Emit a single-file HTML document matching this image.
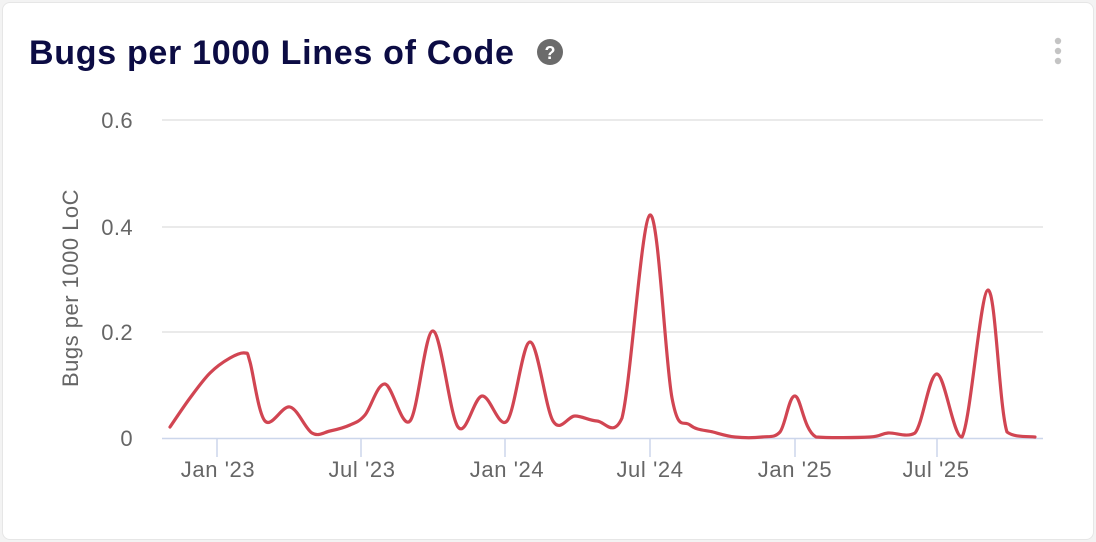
<!DOCTYPE html>
<html><head><meta charset="utf-8"><style>
body{margin:0;width:1096px;height:542px;background:#f3f3f3;font-family:"Liberation Sans",sans-serif;overflow:hidden}
.card{position:absolute;left:2px;top:2px;width:1090px;height:536px;background:#fff;border:1px solid #e6e6e6;border-radius:8px}
</style></head><body>
<div class="card"></div>
<svg width="1096" height="542" style="position:absolute;left:0;top:0" font-family="Liberation Sans, sans-serif">
<text x="29" y="64" font-size="34" font-weight="bold" fill="#0c0c44" letter-spacing="0.7">Bugs per 1000 Lines of Code</text>
<circle cx="550" cy="52" r="13" fill="#6b6b6b"/>
<text x="550" y="59" font-size="18" font-weight="bold" fill="#fff" text-anchor="middle">?</text>
<circle cx="1058" cy="41" r="3.2" fill="#c4c4c4"/><circle cx="1058" cy="51" r="3.2" fill="#c4c4c4"/><circle cx="1058" cy="61" r="3.2" fill="#c4c4c4"/>
<g stroke="#e3e3e3" stroke-width="1.5">
<line x1="162" y1="120" x2="1043" y2="120"/><line x1="162" y1="227" x2="1043" y2="227"/><line x1="162" y1="332" x2="1043" y2="332"/></g>
<line x1="162" y1="438.5" x2="1043" y2="438.5" stroke="#ccd6eb" stroke-width="1.5"/>
<g stroke="#ccd6eb" stroke-width="1.5">
<line x1="217" y1="438" x2="217" y2="457"/><line x1="361" y1="438" x2="361" y2="457"/><line x1="505" y1="438" x2="505" y2="457"/><line x1="650" y1="438" x2="650" y2="457"/><line x1="795" y1="438" x2="795" y2="457"/><line x1="937" y1="438" x2="937" y2="457"/></g>
<g font-size="22" fill="#666" text-anchor="end" letter-spacing="0.4">
<text x="133" y="128">0.6</text><text x="133" y="235">0.4</text><text x="133" y="340">0.2</text><text x="133" y="446">0</text></g>
<g font-size="22" fill="#666" text-anchor="middle" letter-spacing="0.6">
<text x="218" y="477">Jan '23</text><text x="362" y="477">Jul '23</text><text x="507" y="477">Jan '24</text><text x="650" y="477">Jul '24</text><text x="795" y="477">Jan '25</text><text x="936" y="477">Jul '25</text></g>
<text transform="translate(78,288) rotate(-90)" font-size="22" fill="#666" text-anchor="middle" letter-spacing="0.5">Bugs per 1000 LoC</text>
<path id="ln" fill="none" stroke="#d14552" stroke-width="3.2" stroke-linejoin="round" stroke-linecap="round"/>
</svg>
<script>
var p=[[170,427],[190,398],[210,373],[230,358],[245,353],[250,362],[265,421],[290,407],[312,433],[330,431],[350,425],[365,415],[385,384],[410,421],[433,331],[458,427],[482,396],[507,421],[530,342],[553,421],[575,416],[597,421],[622,418],[650,215],[672,398],[690,425],[713,432],[735,437],[762,437],[780,432],[795,396],[816,437],[870,437],[888,433],[915,433],[937,374],[962,437],[988,290],[1007,432],[1035,437]];
var d="M"+p[0];
for(var i=0;i<p.length-1;i++){var a=p[Math.max(i-1,0)],b=p[i],c=p[i+1],e=p[Math.min(i+2,p.length-1)];var t=6;
var c1=[b[0]+(c[0]-a[0])/t,b[1]+(c[1]-a[1])/t],c2=[c[0]-(e[0]-b[0])/t,c[1]-(e[1]-b[1])/t];
c1[1]=Math.min(c1[1],438);c2[1]=Math.min(c2[1],438);
d+="C"+c1+" "+c2+" "+c;}
document.getElementById("ln").setAttribute("d",d);
</script>
</body></html>
